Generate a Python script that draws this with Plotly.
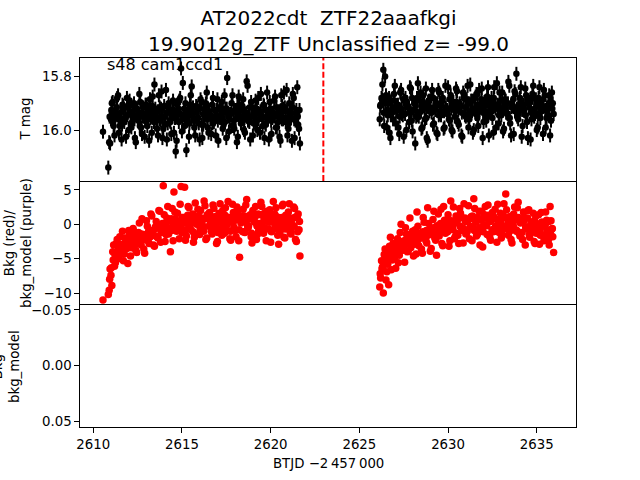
import plotly.graph_objects as go

# ---------------- data ----------------
title_line1 = "AT2022cdt\u00a0\u00a0ZTF22aaafkgi"
title_line2 = "19.9012g_ZTF Unclassified z= -99.0"
sector_label = "s48 cam1ccd1"
event_time = 2622.97
mag_err = 0.026

# orbit 1 / orbit 2 time stamps (BTJD), three interleaved cadences each
t1 = [2610.55, 2610.85, 2610.95, 2611.05, 2611.15, 2611.25, 2611.35, 2611.45, 2611.55, 2611.65,
      2611.75, 2611.85, 2611.95, 2612.05, 2612.15, 2612.25, 2612.35, 2612.45, 2612.55, 2612.65,
      2612.75, 2612.85, 2612.95, 2613.05, 2613.15, 2613.25, 2613.35, 2613.45, 2613.55, 2613.65,
      2613.75, 2613.85, 2613.95, 2614.05, 2614.15, 2614.25, 2614.35, 2614.45, 2614.55, 2614.65,
      2614.75, 2614.85, 2614.95, 2615.05, 2615.15, 2615.25, 2615.35, 2615.45, 2615.55, 2615.65,
      2615.75, 2615.85, 2615.95, 2616.05, 2616.15, 2616.25, 2616.35, 2616.45, 2616.55, 2616.65,
      2616.75, 2616.85, 2616.95, 2617.05, 2617.15, 2617.25, 2617.35, 2617.45, 2617.55, 2617.65,
      2617.75, 2617.85, 2617.95, 2618.05, 2618.15, 2618.25, 2618.35, 2618.45, 2618.55, 2618.65,
      2618.75, 2618.85, 2618.95, 2619.05, 2619.15, 2619.25, 2619.35, 2619.45, 2619.55, 2619.65,
      2619.75, 2619.85, 2619.95, 2620.05, 2620.15, 2620.25, 2620.35, 2620.45, 2620.55, 2620.65,
      2620.75, 2620.85, 2620.95, 2621.05, 2621.15, 2621.25, 2621.35, 2621.45, 2621.55, 2621.65]

t1b = [2610.90, 2611.00, 2611.10, 2611.20, 2611.30, 2611.40, 2611.50, 2611.60, 2611.70, 2611.80,
       2611.90, 2612.00, 2612.10, 2612.20, 2612.30, 2612.40, 2612.50, 2612.60, 2612.70, 2612.80,
       2612.90, 2613.00, 2613.10, 2613.20, 2613.30, 2613.40, 2613.50, 2613.60, 2613.70, 2613.80,
       2613.90, 2614.00, 2614.10, 2614.20, 2614.30, 2614.40, 2614.50, 2614.60, 2614.70, 2614.80,
       2614.90, 2615.00, 2615.10, 2615.20, 2615.30, 2615.40, 2615.50, 2615.60, 2615.70, 2615.80,
       2615.90, 2616.00, 2616.10, 2616.20, 2616.30, 2616.40, 2616.50, 2616.60, 2616.70, 2616.80,
       2616.90, 2617.00, 2617.10, 2617.20, 2617.30, 2617.40, 2617.50, 2617.60, 2617.70, 2617.80,
       2617.90, 2618.00, 2618.10, 2618.20, 2618.30, 2618.40, 2618.50, 2618.60, 2618.70, 2618.80,
       2618.90, 2619.00, 2619.10, 2619.20, 2619.30, 2619.40, 2619.50, 2619.60, 2619.70, 2619.80,
       2619.90, 2620.00, 2620.10, 2620.20, 2620.30, 2620.40, 2620.50, 2620.60, 2620.70, 2620.80,
       2620.90, 2621.00, 2621.10, 2621.20, 2621.30, 2621.40, 2621.50, 2621.60]

t1c = [2610.925, 2611.025, 2611.125, 2611.225, 2611.325, 2611.425, 2611.525, 2611.625, 2611.725, 2611.825,
       2611.925, 2612.025, 2612.125, 2612.225, 2612.325, 2612.425, 2612.525, 2612.625, 2612.725, 2612.825,
       2612.925, 2613.025, 2613.125, 2613.225, 2613.325, 2613.425, 2613.525, 2613.625, 2613.725, 2613.825,
       2613.925, 2614.025, 2614.125, 2614.225, 2614.325, 2614.425, 2614.525, 2614.625, 2614.725, 2614.825,
       2614.925, 2615.025, 2615.125, 2615.225, 2615.325, 2615.425, 2615.525, 2615.625, 2615.725, 2615.825,
       2615.925, 2616.025, 2616.125, 2616.225, 2616.325, 2616.425, 2616.525, 2616.625, 2616.725, 2616.825,
       2616.925, 2617.025, 2617.125, 2617.225, 2617.325, 2617.425, 2617.525, 2617.625, 2617.725, 2617.825,
       2617.925, 2618.025, 2618.125, 2618.225, 2618.325, 2618.425, 2618.525, 2618.625, 2618.725, 2618.825,
       2618.925, 2619.025, 2619.125, 2619.225, 2619.325, 2619.425, 2619.525, 2619.625, 2619.725, 2619.825,
       2619.925, 2620.025, 2620.125, 2620.225, 2620.325, 2620.425, 2620.525, 2620.625, 2620.725, 2620.825,
       2620.925, 2621.025, 2621.125, 2621.225, 2621.325, 2621.425, 2621.525, 2621.625]

t2 = [2626.15, 2626.25, 2626.35, 2626.45, 2626.55, 2626.65, 2626.75, 2626.85, 2626.95, 2627.05,
      2627.15, 2627.25, 2627.35, 2627.45, 2627.55, 2627.65, 2627.75, 2627.85, 2627.95, 2628.05,
      2628.15, 2628.25, 2628.35, 2628.45, 2628.55, 2628.65, 2628.75, 2628.85, 2628.95, 2629.05,
      2629.15, 2629.25, 2629.35, 2629.45, 2629.55, 2629.65, 2629.75, 2629.85, 2629.95, 2630.05,
      2630.15, 2630.25, 2630.35, 2630.45, 2630.55, 2630.65, 2630.75, 2630.85, 2630.95, 2631.05,
      2631.15, 2631.25, 2631.35, 2631.45, 2631.55, 2631.65, 2631.75, 2631.85, 2631.95, 2632.05,
      2632.15, 2632.25, 2632.35, 2632.45, 2632.55, 2632.65, 2632.75, 2632.85, 2632.95, 2633.05,
      2633.15, 2633.25, 2633.35, 2633.45, 2633.55, 2633.65, 2633.75, 2633.85, 2633.95, 2634.05,
      2634.15, 2634.25, 2634.35, 2634.45, 2634.55, 2634.65, 2634.75, 2634.85, 2634.95, 2635.05,
      2635.15, 2635.25, 2635.35, 2635.45, 2635.55, 2635.65, 2635.75, 2635.85, 2635.95]

t2b = [2626.20, 2626.30, 2626.40, 2626.50, 2626.60, 2626.70, 2626.80, 2626.90, 2627.00, 2627.10,
       2627.20, 2627.30, 2627.40, 2627.50, 2627.60, 2627.70, 2627.80, 2627.90, 2628.00, 2628.10,
       2628.20, 2628.30, 2628.40, 2628.50, 2628.60, 2628.70, 2628.80, 2628.90, 2629.00, 2629.10,
       2629.20, 2629.30, 2629.40, 2629.50, 2629.60, 2629.70, 2629.80, 2629.90, 2630.00, 2630.10,
       2630.20, 2630.30, 2630.40, 2630.50, 2630.60, 2630.70, 2630.80, 2630.90, 2631.00, 2631.10,
       2631.20, 2631.30, 2631.40, 2631.50, 2631.60, 2631.70, 2631.80, 2631.90, 2632.00, 2632.10,
       2632.20, 2632.30, 2632.40, 2632.50, 2632.60, 2632.70, 2632.80, 2632.90, 2633.00, 2633.10,
       2633.20, 2633.30, 2633.40, 2633.50, 2633.60, 2633.70, 2633.80, 2633.90, 2634.00, 2634.10,
       2634.20, 2634.30, 2634.40, 2634.50, 2634.60, 2634.70, 2634.80, 2634.90, 2635.00, 2635.10,
       2635.20, 2635.30, 2635.40, 2635.50, 2635.60, 2635.70, 2635.80, 2635.90]

t2c = [2626.175, 2626.275, 2626.375, 2626.475, 2626.575, 2626.675, 2626.775, 2626.875, 2626.975, 2627.075,
       2627.175, 2627.275, 2627.375, 2627.475, 2627.575, 2627.675, 2627.775, 2627.875, 2627.975, 2628.075,
       2628.175, 2628.275, 2628.375, 2628.475, 2628.575, 2628.675, 2628.775, 2628.875, 2628.975, 2629.075,
       2629.175, 2629.275, 2629.375, 2629.475, 2629.575, 2629.675, 2629.775, 2629.875, 2629.975, 2630.075,
       2630.175, 2630.275, 2630.375, 2630.475, 2630.575, 2630.675, 2630.775, 2630.875, 2630.975, 2631.075,
       2631.175, 2631.275, 2631.375, 2631.475, 2631.575, 2631.675, 2631.775, 2631.875, 2631.975, 2632.075,
       2632.175, 2632.275, 2632.375, 2632.475, 2632.575, 2632.675, 2632.775, 2632.875, 2632.975, 2633.075,
       2633.175, 2633.275, 2633.375, 2633.475, 2633.575, 2633.675, 2633.775, 2633.875, 2633.975, 2634.075,
       2634.175, 2634.275, 2634.375, 2634.475, 2634.575, 2634.675, 2634.775, 2634.875, 2634.975, 2635.075,
       2635.175, 2635.275, 2635.375, 2635.475, 2635.575, 2635.675, 2635.775, 2635.875]

# TESS magnitudes
mag1 = [16.006, 16.140, 16.050, 15.900, 15.985, 15.930, 15.880, 16.010, 15.955, 15.905,
        15.970, 16.025, 15.915, 15.890, 15.990, 15.945, 16.030, 15.920, 15.965, 15.895,
        16.015, 15.940, 15.905, 15.985, 16.040, 15.930, 15.875, 15.830, 15.960, 16.020,
        15.915, 15.856, 15.995, 15.950, 16.035, 15.900, 15.970, 15.925, 16.010, 16.080,
        15.940, 15.890, 15.770, 15.824, 15.985, 16.075, 15.930, 15.905, 15.837, 15.960,
        16.020, 15.915, 15.975, 15.885, 16.030, 15.945, 15.900, 15.990, 15.935, 16.015,
        15.880, 15.960, 15.925, 16.040, 15.955, 15.895, 15.980, 15.920, 15.806, 16.005,
        15.940, 15.870, 15.995, 15.930, 16.025, 15.905, 15.965, 15.885, 16.010, 15.818,
        15.950, 16.035, 15.915, 15.975, 15.890, 16.000, 15.940, 15.865, 15.985, 16.030,
        15.925, 15.960, 15.895, 16.015, 15.945, 15.875, 15.990, 15.930, 16.040, 15.910,
        15.860, 15.970, 16.020, 15.900, 15.955, 15.865, 16.030, 15.925, 15.980, 16.050]

mag1b = [16.045, 15.960, 15.895, 16.020, 15.940, 15.870, 15.985, 16.035, 15.910, 15.955,
         15.880, 16.000, 15.935, 15.970, 15.900, 16.045, 15.925, 15.865, 15.990, 15.950,
         16.025, 15.905, 15.960, 15.885, 16.010, 15.945, 15.920, 15.995, 15.870, 15.965,
         16.030, 15.910, 15.850, 15.975, 15.935, 16.015, 15.890, 15.955, 16.040, 15.920,
         15.880, 16.005, 15.945, 15.900, 15.965, 16.025, 15.870, 15.935, 15.990, 15.910,
         15.955, 16.035, 15.895, 15.980, 15.925, 15.860, 16.010, 15.945, 15.905, 15.970,
         16.020, 15.885, 15.950, 15.915, 15.995, 15.870, 16.030, 15.935, 15.960, 15.900,
         15.985, 15.925, 16.045, 15.875, 15.955, 15.910, 16.000, 15.940, 15.835, 15.970,
         15.895, 16.020, 15.930, 15.965, 15.880, 16.010, 15.945, 15.905, 15.975, 15.860,
         16.035, 15.920, 15.955, 15.890, 15.990, 15.940, 16.025, 15.870, 15.960, 15.915,
         15.850, 15.995, 15.930, 16.040, 15.880, 15.965, 15.840, 15.995]

mag1c = [15.950, 15.925, 15.970, 15.940, 15.915, 15.960, 15.935, 15.980, 15.920, 15.955,
         15.945, 15.910, 15.975, 15.930, 15.960, 15.920, 15.950, 15.985, 15.935, 15.915,
         15.965, 15.940, 15.925, 15.955, 15.910, 15.970, 15.945, 15.930, 15.960, 15.920,
         15.950, 15.980, 15.935, 15.915, 15.965, 15.945, 15.925, 15.955, 15.905, 15.970,
         15.940, 15.960, 15.920, 15.950, 15.930, 15.975, 15.945, 15.915, 15.965, 15.935,
         15.955, 15.920, 15.980, 15.940, 15.910, 15.960, 15.930, 15.950, 15.975, 15.925,
         15.945, 15.965, 15.915, 15.955, 15.935, 15.970, 15.920, 15.950, 15.940, 15.985,
         15.930, 15.960, 15.910, 15.945, 15.975, 15.925, 15.955, 15.935, 15.965, 15.915,
         15.950, 15.940, 15.970, 15.920, 15.960, 15.930, 15.955, 15.910, 15.980, 15.945,
         15.925, 15.965, 15.935, 15.950, 15.915, 15.970, 15.940, 15.960, 15.920, 15.955,
         15.930, 15.975, 15.945, 15.915, 15.960, 15.935, 15.950, 15.925]

mag2 = [15.960, 15.880, 15.775, 15.800, 15.990, 15.900, 16.030, 15.935, 15.865, 15.975,
        15.920, 16.015, 15.850, 15.945, 15.890, 16.000, 15.910, 15.840, 15.965, 15.925,
        16.050, 15.880, 15.950, 15.860, 15.990, 15.905, 15.845, 16.040, 15.930, 15.875,
        15.980, 15.915, 16.010, 15.850, 15.940, 15.895, 15.995, 15.835, 15.925, 15.960,
        15.870, 16.005, 15.910, 15.845, 15.970, 15.900, 16.020, 15.860, 15.945, 15.885,
        15.990, 15.830, 15.930, 16.000, 15.875, 15.955, 15.850, 15.915, 16.030, 15.895,
        15.965, 15.840, 15.935, 15.880, 16.010, 15.905, 15.825, 15.975, 15.920, 15.860,
        15.995, 15.890, 15.940, 15.835, 16.020, 15.910, 15.855, 15.790, 15.960, 15.880,
        16.025, 15.925, 15.845, 15.970, 15.900, 16.035, 15.865, 15.950, 15.885, 15.990,
        15.840, 15.930, 16.015, 15.870, 15.955, 15.905, 16.020, 15.860, 15.940]

mag2b = [15.905, 15.830, 15.985, 15.870, 15.945, 16.010, 15.890, 15.960, 15.835, 15.925,
         15.990, 15.860, 15.940, 16.025, 15.880, 15.915, 15.970, 15.845, 16.005, 15.900,
         15.950, 15.825, 15.935, 15.995, 15.870, 15.960, 16.030, 15.890, 15.920, 15.850,
         15.975, 15.905, 16.015, 15.860, 15.945, 15.880, 15.990, 15.925, 15.840, 15.965,
         16.000, 15.895, 15.930, 15.855, 15.980, 15.910, 16.025, 15.870, 15.950, 15.835,
         15.960, 15.890, 16.010, 15.925, 15.865, 15.985, 15.905, 15.845, 15.970, 15.930,
         15.875, 16.020, 15.900, 15.955, 15.840, 15.990, 15.915, 15.860, 15.945, 16.005,
         15.885, 15.935, 15.820, 15.975, 15.900, 16.015, 15.865, 15.950, 15.910, 15.840,
         15.985, 15.925, 15.870, 16.030, 15.895, 15.960, 15.835, 15.940, 16.000, 15.880,
         15.955, 15.910, 15.850, 15.990, 15.925, 15.870, 15.965, 15.900]

mag2c = [15.910, 15.885, 15.935, 15.900, 15.925, 15.880, 15.945, 15.915, 15.890, 15.930,
         15.905, 15.950, 15.920, 15.885, 15.940, 15.895, 15.915, 15.935, 15.880, 15.925,
         15.910, 15.945, 15.890, 15.930, 15.905, 15.920, 15.955, 15.895, 15.915, 15.935,
         15.880, 15.925, 15.900, 15.945, 15.910, 15.890, 15.930, 15.915, 15.940, 15.885,
         15.920, 15.905, 15.950, 15.895, 15.925, 15.910, 15.935, 15.880, 15.915, 15.945,
         15.900, 15.930, 15.890, 15.920, 15.940, 15.905, 15.925, 15.885, 15.935, 15.910,
         15.950, 15.895, 15.915, 15.930, 15.880, 15.920, 15.905, 15.945, 15.890, 15.925,
         15.910, 15.935, 15.900, 15.955, 15.915, 15.885, 15.930, 15.920, 15.940, 15.895,
         15.925, 15.905, 15.945, 15.890, 15.915, 15.935, 15.880, 15.920, 15.910, 15.940,
         15.900, 15.930, 15.885, 15.925, 15.915, 15.945, 15.895, 15.920]

# background flux
bkg1 = [-11.0, -10.2, -6.5, -8.9, -3.0, -5.6, -2.2, -4.9, -3.6, -1.0,
        -4.3, -2.7, -5.7, -1.5, -3.4, -0.6, -2.9, -4.1, -1.2, -2.4,
        0.8, -3.6, -1.9, -0.3, -2.8, 1.5, -1.1, -3.2, 0.4, -2.0,
        1.9, -0.8, 5.6, -2.5, 0.9, -1.4, -4.0, 2.3, 4.7, -0.5,
        1.6, -2.1, 5.5, 0.3, 5.4, -1.7, 2.6, -0.2, 1.2, -2.6,
        3.1, 0.6, -1.3, 2.0, -0.7, 3.4, -2.2, 0.9, 1.7, -1.0,
        2.8, -0.4, -2.8, 1.3, 3.0, -1.6, 0.2, 2.4, -0.9, 1.0,
        -2.3, 2.9, 0.5, -1.8, 1.9, -4.8, 0.7, 2.2, -1.2, 3.6,
        -0.3, 1.4, -2.7, 0.8, 2.6, -1.5, 0.1, 3.2, -0.8, 1.6,
        -2.4, 0.4, 2.1, -1.1, 3.3, -0.6, 1.1, -2.9, 0.6, 2.7,
        -1.9, 1.3, -0.2, 3.0, -1.4, 0.9, 2.3, -2.5, 1.5, -4.6]

bkg1b = [-9.6, -7.4, -4.0, -6.1, -2.8, -5.0, -1.8, -3.9, -5.3, -2.0,
         -3.5, -0.9, -4.6, -2.3, -1.1, -3.8, -2.5, 0.2, -3.0, -1.6,
         -4.2, 0.5, -2.2, -1.0, 1.2, -3.0, -0.4, -1.8, 2.0, -2.6,
         0.1, 1.4, -1.5, 2.6, -0.6, 0.8, -2.4, 1.8, -1.0, 0.4,
         2.9, -1.2, 1.0, -2.3, 0.6, 2.4, -0.8, 1.5, -1.9, 0.2,
         2.2, -1.5, 0.9, -0.3, 2.7, -2.0, 1.2, 0.0, -1.4, 2.3,
         0.6, -2.5, 1.6, -0.6, 2.0, -1.3, 0.8, 3.3, -2.1, 0.3,
         1.7, -0.9, 2.5, -2.4, 0.5, 1.2, -1.1, 2.8, -0.2, 0.9,
         -1.8, 2.0, 0.3, -2.2, 1.5, -0.5, 2.6, -1.3, 0.7, 1.9,
         -0.7, -2.6, 1.4, 0.2, 2.4, -1.6, 0.9, -0.4, 2.9, -2.0,
         0.5, 1.8, -1.2, 0.0, 2.5, -2.2, 1.0, -0.8]

bkg1c = [-8.0, -6.3, -5.2, -4.4, -4.8, -3.5, -4.1, -2.9, -3.7, -2.6,
         -3.3, -2.2, -3.0, -2.6, -1.8, -2.9, -2.0, -2.5, -1.4, -2.2,
         -1.5, -2.3, -1.0, -1.8, -0.9, -1.6, -0.6, -1.9, -0.4, -1.2,
         -0.3, -1.0, 0.2, -0.7, 0.5, -0.9, 0.1, 0.8, -0.6, 0.4,
         -0.5, 1.0, 0.2, -0.8, 1.3, -0.2, 0.6, -1.1, 0.9, 0.0,
         1.2, -0.6, 0.4, -1.0, 0.8, 1.4, -0.3, 0.5, -0.9, 1.1,
         0.1, -1.2, 0.9, 0.3, -0.7, 1.3, -0.1, 0.6, -1.0, 1.0,
         -0.4, 0.8, 1.5, -0.8, 0.2, -1.1, 1.2, 0.4, -0.5, 0.9,
         -1.3, 0.6, 1.1, -0.2, -0.9, 1.4, 0.0, 0.7, -0.6, 1.2,
         0.3, -1.0, 0.9, 1.5, -0.4, 0.5, -1.2, 1.0, 0.2, -0.7,
         1.3, 0.0, -0.9, 0.8, -0.3, 1.1, -1.1, 0.4]

bkg2 = [-9.1, -5.3, -10.0, -3.6, -6.9, -8.8, -1.9, -5.2, -3.0, -6.4,
        -2.1, -4.5, 0.0, -3.3, -5.5, -1.4, -3.9, 0.9, -2.6, -4.6,
        -0.8, 1.8, -3.1, -1.7, -4.2, 0.3, -2.4, 2.4, -1.0, -3.5,
        0.7, -2.0, -4.5, 1.5, -0.9, -2.8, 2.6, -1.3, 0.4, -3.2,
        3.4, -0.2, -2.1, 1.2, -1.6, 2.3, -0.5, -2.7, 0.9, -1.2,
        2.7, -0.3, -2.4, 3.7, 0.5, -1.5, 1.9, -0.8, -3.3, 1.4,
        -0.1, 2.8, -1.9, 0.6, -1.1, 2.2, -2.6, 0.2, 1.6, -1.4,
        3.0, 4.4, -0.6, 1.1, -2.2, 0.8, 2.5, -1.0, 3.2, -1.7,
        0.4, 1.8, -3.0, -0.4, 2.1, -1.3, 0.3, -2.5, 1.2, -0.9,
        -2.9, 1.7, -0.3, -1.8, 0.6, -2.3, 2.6, -0.7, -4.1]

bkg2b = [-7.8, -6.2, -4.4, -8.1, -5.8, -3.2, -6.6, -2.8, -4.8, -3.6,
         -5.6, -1.2, -3.8, -2.6, -0.5, -4.0, -2.2, -3.4, -1.0, -2.9,
         -4.3, -0.3, -2.0, -3.6, 1.0, -1.5, -2.7, 0.1, -3.9, -1.1,
         1.9, -2.3, -0.4, -1.7, 2.2, -3.1, 0.6, -1.0, 1.4, -2.4,
         -0.6, 2.5, -1.8, 0.3, -2.8, 1.6, -0.9, 3.0, -1.4, 0.6,
         -2.1, 1.1, -0.4, 2.3, -1.7, 0.8, -3.0, 1.9, -0.2, 2.6,
         -1.5, 0.4, -2.3, 1.7, 0.9, -1.0, 2.9, -0.5, -2.0, 1.3,
         -0.3, 2.1, -1.6, 0.5, -2.7, 1.5, -0.8, 2.4, -1.3, 0.7,
         -2.2, 1.0, -0.6, 2.0, -1.9, 0.1, 1.6, -2.8, -0.4, 1.4,
         -1.6, 0.3, -2.4, 1.8, -0.9, -3.0, 0.5, -1.8]

bkg2c = [-7.2, -6.5, -5.9, -5.2, -4.5, -5.0, -3.9, -4.4, -3.4, -3.8,
         -3.0, -3.6, -2.5, -3.2, -2.3, -2.9, -2.0, -2.7, -1.9, -2.5,
         -1.6, -2.4, -1.3, -2.0, -1.1, -1.8, -0.9, -1.6, -0.8, -1.4,
         -0.5, -1.5, -0.2, -1.2, 0.1, -0.9, -0.4, 0.3, -1.1, -0.2,
         0.5, -0.8, 0.2, -1.3, 0.8, -0.3, 1.0, -0.6, 0.4, -1.0,
         0.7, -0.4, 1.2, -0.9, 0.3, 1.0, -0.5, 0.6, -1.1, 0.9,
         -0.2, 1.3, 0.4, -0.8, 1.1, -0.3, 0.7, -1.2, 0.5, 1.4,
         -0.6, 0.9, 0.1, -1.0, 1.2, -0.2, 0.6, -0.9, 1.0, 0.2,
         -1.2, 0.5, -0.4, 0.9, -1.5, 0.2, -0.7, 0.6, -1.3, 0.0,
         -1.0, 0.3, -1.6, -0.2, -0.9, 0.4, -1.4, -0.6]

x_ticks = [2610, 2615, 2620, 2625, 2630, 2635]
mag_ticks = [15.8, 16.0]
mag_tick_text = ["15.8", "16.0"]
bkg_ticks = [5, 0, -5, -10]
bkg_tick_text = ["5", "0", "\u22125", "\u221210"]
diff_ticks = [-0.05, 0.0, 0.05]
diff_tick_text = ["\u22120.05", "0.00", "0.05"]

# ---------------- figure ----------------
W, H = 640, 480
FONT = "DejaVu Sans"
fig = go.Figure()

for tt, mm in ((t1, mag1), (t1b, mag1b), (t1c, mag1c), (t2, mag2), (t2b, mag2b), (t2c, mag2c)):
    fig.add_trace(go.Scatter(
        x=tt, y=mm, mode="markers", xaxis="x", yaxis="y",
        marker=dict(color="black", size=6.5),
        error_y=dict(type="constant", value=mag_err, color="black", thickness=2, width=0),
        showlegend=False, hoverinfo="skip"))

for tt, bb in ((t1, bkg1), (t1b, bkg1b), (t1c, bkg1c), (t2, bkg2), (t2b, bkg2b), (t2c, bkg2c)):
    fig.add_trace(go.Scatter(
        x=tt, y=bb, mode="markers", xaxis="x2", yaxis="y2",
        marker=dict(color="red", size=7.5),
        showlegend=False, hoverinfo="skip"))

fig.add_trace(go.Scatter(x=[None], y=[None], xaxis="x3", yaxis="y3",
                         mode="markers", showlegend=False, hoverinfo="skip"))

def px_x(v):
    return v / W

def px_y(v):
    return 1 - v / H

xr = [2609.255, 2637.21]
dom_x = [px_x(80), px_x(576)]
d1 = [px_y(181), px_y(58)]
d2 = [px_y(304), px_y(181)]
d3 = [px_y(427), px_y(304)]

base = dict(showline=True, linecolor="black", linewidth=1, automargin=False,
            showgrid=False, zeroline=False, tickcolor="black",
            tickwidth=1, ticklen=4.7,
            tickfont=dict(family=FONT, size=13.3, color="black"))

fig.update_layout(
    width=W, height=H,
    margin=dict(l=0, r=0, t=0, b=0, autoexpand=False),
    paper_bgcolor="white", plot_bgcolor="white",
    font=dict(family=FONT, color="black"),
    xaxis=dict(domain=dom_x, anchor="y", range=xr, showticklabels=False, ticks="",
               mirror=True, **base),
    xaxis2=dict(domain=dom_x, anchor="y2", range=xr, matches="x", showticklabels=False,
                ticks="", mirror=False, **base),
    xaxis3=dict(domain=dom_x, anchor="y3", range=xr, matches="x", ticks="outside",
                tickvals=x_ticks, mirror=False, **base),
    yaxis=dict(domain=d1, anchor="x", range=[16.190, 15.731], ticks="outside", mirror=True,
               tickvals=mag_ticks, ticktext=mag_tick_text, **base),
    yaxis2=dict(domain=d2, anchor="x2", range=[-11.58, 6.29], ticks="outside", mirror=True,
                tickvals=bkg_ticks, ticktext=bkg_tick_text, **base),
    yaxis3=dict(domain=d3, anchor="x3", range=[0.0554, -0.0554], ticks="outside", mirror=True,
                tickvals=diff_ticks, ticktext=diff_tick_text, **base),
)

fig.add_shape(type="line", xref="x", yref="y domain", x0=event_time, x1=event_time,
              y0=0, y1=1, line=dict(color="red", width=2, dash="6px,2.6px"))

annotations = [
    dict(text=title_line1 + "<br>" + title_line2, x=px_x(328), y=px_y(31), xref="paper", yref="paper",
         xanchor="center", yanchor="middle", showarrow=False,
         font=dict(family=FONT, size=20, color="black")),
    dict(text=sector_label, x=px_x(105), y=px_y(65), xref="paper", yref="paper",
         xanchor="left", yanchor="middle", showarrow=False,
         font=dict(family=FONT, size=16, color="black")),
    dict(text="T mag", x=px_x(25), y=(d1[0] + d1[1]) / 2, xref="paper", yref="paper",
         xanchor="center", yanchor="middle", textangle=-90, showarrow=False,
         font=dict(family=FONT, size=13.3, color="black")),
    dict(text="Bkg (red)/<br>bkg_model (purple)", x=px_x(18), y=px_y(243), xref="paper", yref="paper",
         xanchor="center", yanchor="middle", textangle=-90, showarrow=False,
         font=dict(family=FONT, size=13.3, color="black")),
    dict(text="Bkg<br>bkg_model", x=px_x(6), y=px_y(367), xref="paper", yref="paper",
         xanchor="center", yanchor="middle", textangle=-90, showarrow=False,
         font=dict(family=FONT, size=13.3, color="black")),
    dict(text="BTJD \u22122\u2009457\u2009000", x=px_x(328), y=px_y(463), xref="paper", yref="paper",
         xanchor="center", yanchor="middle", showarrow=False,
         font=dict(family=FONT, size=13.3, color="black")),
]
fig.update_layout(annotations=annotations)

fig.write_html("out.html", config={"displayModeBar": False},
               post_script="document.body.style.margin='0px';document.body.style.padding='0px';")
